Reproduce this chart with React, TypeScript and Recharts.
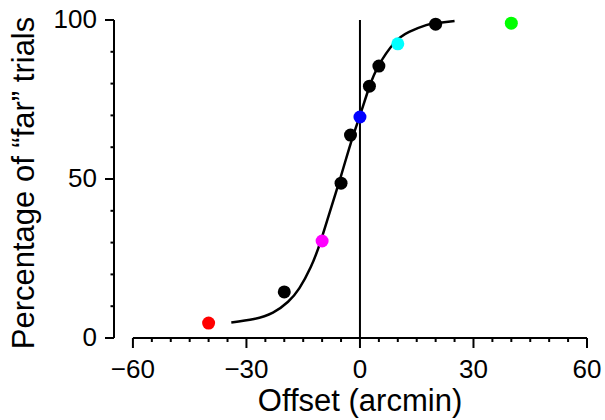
import { ComposedChart, Line, Scatter, Cell, XAxis, YAxis, ReferenceLine, Customized } from 'recharts'

// measured points: offset (arcmin) vs percentage "far"
const pointX = [-40, -20, -10, -5, -2.5, 0, 2.5, 5, 10, 20, 40]
const pointY = [4.7, 14.5, 30.5, 48.7, 63.8, 69.5, 79.2, 85.5, 92.5, 98.7, 99]
const pointColor = ['#ff0000', '#000000', '#ff00ff', '#000000', '#000000', '#0000ff', '#000000', '#000000', '#00ffff', '#000000', '#00ff00']

// fitted psychometric curve
const fitX = [-34, -28, -23, -19, -16, -13, -10.5, -8, -5, -2.5, 0, 2.5, 5, 9, 13, 17.5, 20, 25]
const fitY = [4.9, 6.0, 8.0, 11.4, 15.7, 22.3, 30, 39.5, 51, 61, 70, 79, 85.8, 92.7, 96.3, 98.4, 99, 99.7]

const xTicks = [-60, -55, -50, -45, -40, -35, -30, -25, -20, -15, -10, -5, 0, 5, 10, 15, 20, 25, 30, 35, 40, 45, 50, 55, 60]
const xMajor = [-60, -30, 0, 30, 60]
const yTicks = [0, 10, 20, 30, 40, 50, 60, 70, 80, 90, 100]
const yMajor = [0, 50, 100]

const points = pointX.map((x, i) => ({ x, y: pointY[i], color: pointColor[i] }))
const fit = fitX.map((x, i) => ({ x, y: fitY[i] }))

const FONT = '"Liberation Sans", Arial, Helvetica, sans-serif'

function XTick(props: any) {
  const { x, y, payload } = props
  const major = xMajor.includes(payload.value)
  return (
    <g>
      <line x1={x} x2={x} y1={y} y2={y + (major ? 10 : 4)} stroke="#000" strokeWidth={2} />
      {major && (
        <text x={x} y={y + 40} textAnchor="middle" fontSize={26} fontFamily={FONT} fill="#000">
          {payload.value < 0 ? '\u2212' + Math.abs(payload.value) : payload.value}
        </text>
      )}
    </g>
  )
}

function YTick(props: any) {
  const { x, y, payload } = props
  const major = yMajor.includes(payload.value)
  return (
    <g>
      <line x1={x - (major ? 9 : 3.5)} x2={x} y1={y} y2={y} stroke="#000" strokeWidth={2} />
      {major && (
        <text x={x - 17} y={y + 8} textAnchor="end" fontSize={26} fontFamily={FONT} fill="#000">
          {payload.value}
        </text>
      )}
    </g>
  )
}

function Dot(props: any) {
  const { cx, cy, fill } = props
  return <circle cx={cx} cy={cy} r={6.5} fill={fill} />
}

function Titles(props: any) {
  const off = props.offset || { left: 114, top: 20, width: 473, height: 318 }
  const yMid = off.top + off.height / 2 + 4
  return (
    <g fontFamily={FONT} fill="#000">
      <text x={360} y={411} textAnchor="middle" fontSize={31}>Offset (arcmin)</text>
      <text x={34} y={yMid} textAnchor="middle" fontSize={31} transform={`rotate(-90, 34, ${yMid})`}>
        Percentage of “far” trials
      </text>
    </g>
  )
}

export default function App() {
  return (
    <div style={{ position: 'absolute', left: 0, top: 0, background: '#fff' }}>
      <ComposedChart width={605} height={420} margin={{ top: 20, right: 18, bottom: 0, left: 0 }}>
        <XAxis
          type="number"
          dataKey="x"
          domain={[-65, 60]}
          ticks={xTicks}
          interval={0}
          allowDataOverflow
          axisLine={false}
          tickLine={false}
          tickSize={0}
          tickMargin={0}
          height={82}
          tick={<XTick />}
        />
        <YAxis
          type="number"
          dataKey="y"
          domain={[0, 100]}
          ticks={yTicks}
          interval={0}
          width={114}
          axisLine={{ stroke: '#000', strokeWidth: 2 }}
          tickLine={false}
          tickSize={0}
          tickMargin={0}
          tick={<YTick />}
        />
        <ReferenceLine segment={[{ x: -60, y: 0 }, { x: 60, y: 0 }]} stroke="#000" strokeWidth={2} ifOverflow="visible" />
        <ReferenceLine x={0} stroke="#000" strokeWidth={2} />
        <Line data={fit} dataKey="y" type="natural" stroke="#000" strokeWidth={2.5} dot={false} isAnimationActive={false} />
        <Scatter data={points} dataKey="y" shape={<Dot />} isAnimationActive={false}>
          {points.map((p, i) => (
            <Cell key={i} fill={p.color} />
          ))}
        </Scatter>
        <Customized component={Titles} />
      </ComposedChart>
    </div>
  )
}
